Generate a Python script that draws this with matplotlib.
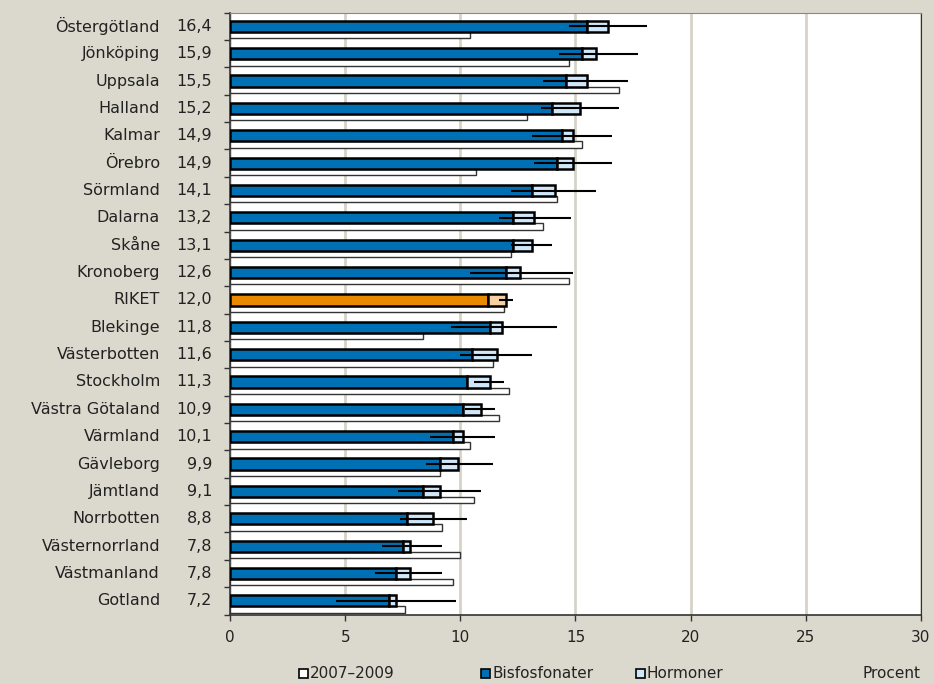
import numpy as np
import matplotlib
matplotlib.use("Agg")
import matplotlib.pyplot as plt
from matplotlib.patches import Rectangle

# Län, sorterade efter total andel
lan = ["Östergötland", "Jönköping", "Uppsala", "Halland", "Kalmar", "Örebro",
       "Sörmland", "Dalarna", "Skåne", "Kronoberg", "RIKET", "Blekinge",
       "Västerbotten", "Stockholm", "Västra Götaland", "Värmland", "Gävleborg",
       "Jämtland", "Norrbotten", "Västernorrland", "Västmanland", "Gotland"]
totalt = [16.4, 15.9, 15.5, 15.2, 14.9, 14.9, 14.1, 13.2, 13.1, 12.6, 12.0, 11.8,
          11.6, 11.3, 10.9, 10.1, 9.9, 9.1, 8.8, 7.8, 7.8, 7.2]
bisfosfonater = [15.5, 15.3, 14.6, 14.0, 14.4, 14.2, 13.1, 12.3, 12.3, 12.0, 11.2, 11.3,
                 10.5, 10.3, 10.1, 9.7, 9.1, 8.4, 7.7, 7.5, 7.2, 6.9]
ki_lag = [14.7, 14.3, 13.6, 13.5, 13.1, 13.2, 12.2, 11.7, 12.2, 10.4, 11.7, 9.6,
          10.0, 10.6, 10.2, 8.7, 8.5, 7.3, 7.4, 6.6, 6.3, 4.6]
ki_hog = [18.1, 17.7, 17.3, 16.9, 16.6, 16.6, 15.9, 14.8, 14.0, 14.9, 12.3, 14.2,
          13.1, 11.9, 11.5, 11.5, 11.4, 10.9, 10.3, 9.2, 9.2, 9.8]
ar_2007_2009 = [10.4, 14.7, 16.9, 12.9, 15.3, 10.7, 14.2, 13.6, 12.2, 14.7, 11.9, 8.4,
                11.4, 12.1, 11.7, 10.4, 9.1, 10.6, 9.2, 10.0, 9.7, 7.6]

hormoner = np.array(totalt) - np.array(bisfosfonater)

bg = "#dbd9cd"
bla = "#0070b4"
ljusbla = "#cfe7f8"
orange = "#e98900"
ljusorange = "#f6d0a0"
text_col = "#222222"

plt.rcParams["font.family"] = ["DejaVu Sans"]

fig = plt.figure(figsize=(9.34, 6.84), dpi=100, facecolor=bg)
ax = fig.add_axes([0.2463, 0.1016, 0.7397, 0.8798])
ax.set_facecolor("white")

y = np.arange(len(lan))
riket = [n == "RIKET" for n in lan]
c_bis = [orange if r else bla for r in riket]
c_hor = [ljusorange if r else ljusbla for r in riket]

# föregående period, smal stapel under
ax.barh(y + 0.32, ar_2007_2009, height=0.23, color="white",
        edgecolor="#333333", linewidth=1.0, zorder=2)
ax.barh(y, bisfosfonater, height=0.41, color=c_bis,
        edgecolor="black", linewidth=1.8, zorder=3)
ax.barh(y, hormoner, left=bisfosfonater, height=0.41, color=c_hor,
        edgecolor="black", linewidth=1.8, zorder=3)
ax.hlines(y, ki_lag, ki_hog, color="black", linewidth=1.5, zorder=4)

ax.set_xlim(0, 30)
ax.set_ylim(len(lan) - 0.5, -0.5)
ax.set_xticks(np.arange(0, 31, 5))
ax.set_xticklabels([str(v) for v in range(0, 31, 5)], fontsize=11, color=text_col)
ax.set_yticks(np.arange(len(lan) + 1) - 0.5)
ax.set_yticklabels([])
ax.tick_params(axis="both", direction="out", length=4, width=1, color="#333333")
ax.tick_params(axis="x", pad=7)
ax.grid(axis="x", color="#d6d3c6", linewidth=2, zorder=0)
ax.set_axisbelow(True)
for s in ["left", "bottom"]:
    ax.spines[s].set_color("#333333")
    ax.spines[s].set_linewidth(1.2)
ax.spines["top"].set_color("#888888")
ax.spines["right"].set_color("#333333")

for i, (namn, v) in enumerate(zip(lan, totalt)):
    ax.text(-0.1013, i, namn, transform=ax.get_yaxis_transform(),
            ha="right", va="center", fontsize=11.5, color=text_col)
    ax.text(-0.026, i, f"{v:.1f}".replace(".", ","), transform=ax.get_yaxis_transform(),
            ha="right", va="center", fontsize=11.5, color=text_col)

# teckenförklaring
W, H = 934, 684
poster = [(299, "white", "2007–2009"), (481, bla, "Bisfosfonater"), (636, ljusbla, "Hormoner")]
for x0, fc, txt in poster:
    fig.patches.append(Rectangle((x0 / W, (H - 678) / H), 9 / W, 9 / H, transform=fig.transFigure,
                                 facecolor=fc, edgecolor="black", linewidth=1.2))
    fig.text((x0 + 11) / W, (H - 673) / H, txt, fontsize=11, color=text_col,
             ha="left", va="center")
fig.text(921 / W, (H - 673) / H, "Procent", fontsize=11, color=text_col, ha="right", va="center")

fig.savefig("out.png", dpi=100, facecolor=bg)
